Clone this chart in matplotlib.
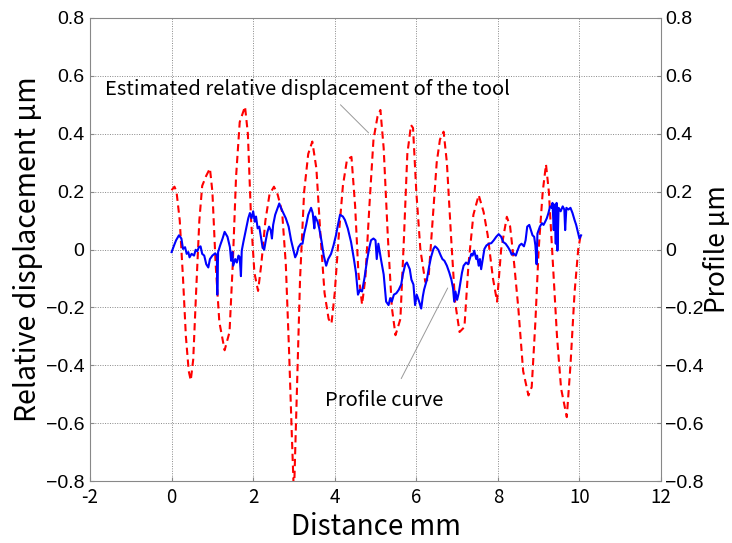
import matplotlib
matplotlib.use("Agg")
import matplotlib.pyplot as plt

# Estimated relative displacement of the tool (red dashed)
red_x = [0.00, 0.07, 0.12, 0.20, 0.28, 0.35, 0.42, 0.47, 0.53, 0.60, 0.68, 0.75, 0.85, 0.94,
         1.00, 1.08, 1.17, 1.30, 1.42, 1.50, 1.58, 1.67, 1.80, 1.87, 1.95, 2.03, 2.12, 2.20,
         2.30, 2.40, 2.51, 2.60, 2.71, 2.80, 2.88, 2.95, 3.00, 3.05, 3.15, 3.25, 3.35, 3.45,
         3.55, 3.65, 3.75, 3.85, 3.92, 4.00, 4.10, 4.20, 4.30, 4.41, 4.50, 4.58, 4.67, 4.75,
         4.85, 4.95, 5.05, 5.12, 5.20, 5.30, 5.40, 5.49, 5.61, 5.70, 5.78, 5.87, 5.92, 6.00,
         6.10, 6.22, 6.30, 6.40, 6.50, 6.58, 6.67, 6.75, 6.85, 6.95, 7.06, 7.18, 7.28, 7.40,
         7.53, 7.65, 7.75, 7.88, 7.98, 8.08, 8.22, 8.30, 8.40, 8.50, 8.62, 8.75, 8.83, 8.92,
         9.00, 9.10, 9.18, 9.25, 9.35, 9.45, 9.55, 9.69, 9.78, 9.88, 9.97, 10.03]
red_y = [0.205, 0.217, 0.20, 0.10, -0.10, -0.30, -0.42, -0.452, -0.38, -0.15, 0.10, 0.22, 0.255, 0.28,
         0.20, -0.05, -0.25, -0.348, -0.285, -0.05, 0.25, 0.44, 0.494, 0.40, 0.10, -0.08, -0.143, -0.05,
         0.10, 0.19, 0.217, 0.19, 0.13, -0.05, -0.35, -0.65, -0.85, -0.60, -0.10, 0.20, 0.33, 0.373,
         0.28, 0.05, -0.15, -0.24, -0.256, -0.15, 0.05, 0.22, 0.31, 0.32, 0.15, -0.08, -0.19, -0.10,
         0.15, 0.38, 0.46, 0.482, 0.35, 0.05, -0.20, -0.296, -0.24, 0.05, 0.33, 0.43, 0.42, 0.20,
         0.00, -0.112, -0.10, 0.10, 0.30, 0.38, 0.407, 0.30, 0.05, -0.18, -0.285, -0.268, -0.05, 0.12,
         0.188, 0.13, 0.05, -0.10, -0.18, 0.00, 0.113, 0.08, -0.05, -0.20, -0.42, -0.504, -0.475, -0.25,
         0.00, 0.20, 0.294, 0.20, -0.05, -0.30, -0.48, -0.579, -0.40, -0.15, 0.00, 0.05]

# Profile curve (blue solid)
blue_x = [0.00, 0.06, 0.11, 0.18, 0.24, 0.28, 0.33, 0.37, 0.41, 0.44, 0.49, 0.55, 0.59, 0.63, 0.67,
          0.71, 0.75, 0.80, 0.85, 0.90, 0.94, 1.00, 1.07, 1.11, 1.12, 1.14, 1.19, 1.25, 1.30, 1.37,
          1.43, 1.46, 1.49, 1.51, 1.56, 1.60, 1.64, 1.67, 1.70, 1.72, 1.76, 1.82, 1.88, 1.92, 1.96,
          2.00, 2.04, 2.07, 2.11, 2.15, 2.19, 2.23, 2.27, 2.31, 2.35, 2.39, 2.43, 2.46, 2.49, 2.54,
          2.60, 2.64, 2.68, 2.74, 2.80, 2.87, 2.93, 2.98, 3.03, 3.07, 3.11, 3.17, 3.21, 3.25, 3.30,
          3.35, 3.42, 3.46, 3.50, 3.52, 3.58, 3.62, 3.68, 3.73, 3.79, 3.84, 3.91, 3.97, 4.03, 4.07,
          4.13, 4.20, 4.25, 4.32, 4.40, 4.47, 4.52, 4.57, 4.62, 4.67, 4.73, 4.79, 4.85, 4.89, 4.95,
          5.00, 5.03, 5.07, 5.14, 5.20, 5.26, 5.32, 5.36, 5.40, 5.45, 5.51, 5.57, 5.63, 5.67, 5.73,
          5.77, 5.84, 5.88, 5.93, 5.97, 6.01, 6.07, 6.12, 6.16, 6.19, 6.26, 6.31, 6.36, 6.42, 6.46,
          6.50, 6.54, 6.60, 6.64, 6.69, 6.75, 6.81, 6.86, 6.90, 6.93, 6.96, 7.00, 7.04, 7.08, 7.12,
          7.16, 7.22, 7.27, 7.31, 7.35, 7.38, 7.42, 7.47, 7.49, 7.53, 7.56, 7.59, 7.63, 7.67, 7.72,
          7.78, 7.84, 7.90, 7.96, 8.02, 8.08, 8.13, 8.19, 8.25, 8.30, 8.34, 8.38, 8.44, 8.48, 8.53,
          8.58, 8.64, 8.68, 8.72, 8.77, 8.81, 8.85, 8.89, 8.92, 8.95, 8.97, 9.03, 9.08, 9.12, 9.16,
          9.20, 9.24, 9.28, 9.32, 9.34, 9.37, 9.39, 9.42, 9.44, 9.46, 9.49, 9.54, 9.59, 9.63, 9.65,
          9.68, 9.73, 9.78, 9.83, 9.88, 9.92, 9.96, 10.00, 10.04]
blue_y = [-0.009, 0.014, 0.032, 0.049, 0.038, 0.002, 0.008, -0.015, -0.009, -0.027, -0.015, -0.021, -0.001, -0.006, 0.008,
          0.011, -0.015, -0.021, -0.051, -0.062, -0.033, -0.021, -0.013, -0.021, -0.156, -0.009, 0.014, 0.038, 0.061, 0.044,
          0.008, -0.039, -0.009, -0.056, -0.033, -0.045, -0.021, -0.027, -0.092, -0.004, 0.026, 0.067, 0.108, 0.126, 0.108,
          0.132, 0.096, 0.114, 0.073, 0.079, 0.044, 0.008, -0.001, 0.032, 0.061, 0.079, 0.067, 0.038, 0.085, 0.120,
          0.144, 0.159, 0.144, 0.126, 0.108, 0.079, 0.032, 0.002, -0.027, -0.015, 0.008, 0.020, 0.020, 0.055, 0.085,
          0.120, 0.144, 0.126, 0.073, 0.114, 0.096, 0.073, 0.026, -0.021, -0.056, -0.033, -0.015, 0.014, 0.049, 0.079,
          0.120, 0.114, 0.102, 0.073, 0.026, -0.033, -0.080, -0.156, -0.139, -0.145, -0.098, -0.039, 0.008, 0.032, 0.038,
          0.032, -0.033, 0.020, -0.039, -0.086, -0.180, -0.192, -0.168, -0.180, -0.156, -0.151, -0.139, -0.121, -0.086, -0.051,
          -0.045, -0.068, -0.104, -0.121, -0.192, -0.156, -0.180, -0.204, -0.162, -0.139, -0.104, -0.062, -0.027, 0.002, 0.011,
          0.006, -0.001, -0.021, -0.033, -0.039, -0.056, -0.080, -0.104, -0.133, -0.180, -0.145, -0.174, -0.151, -0.115, -0.080,
          -0.056, -0.045, -0.051, -0.033, -0.015, -0.021, -0.004, -0.033, -0.021, -0.056, -0.033, -0.068, -0.033, 0.002, 0.014,
          0.020, 0.022, 0.032, 0.044, 0.053, 0.044, 0.026, 0.020, 0.008, -0.004, -0.018, -0.013, -0.021, -0.004, 0.014,
          0.020, 0.011, 0.032, 0.079, 0.085, 0.067, 0.049, 0.044, 0.014, -0.051, 0.055, 0.079, 0.091, 0.085, 0.096,
          0.108, 0.126, 0.149, 0.144, 0.161, 0.067, 0.155, 0.020, 0.161, -0.004, 0.144, 0.132, 0.149, 0.138, 0.067,
          0.144, 0.138, 0.144, 0.126, 0.102, 0.085, 0.061, 0.038, 0.049]

x_ticks = [-2, 0, 2, 4, 6, 8, 10, 12]
y_ticks = [-0.8, -0.6, -0.4, -0.2, 0, 0.2, 0.4, 0.6, 0.8]
y_tick_labels = ["\u22120.8", "\u22120.6", "\u22120.4", "\u22120.2", "0", "0.2", "0.4", "0.6", "0.8"]

jp = ["Noto Sans CJK JP", "DejaVu Sans"]
tickfont = ["Liberation Sans", "DejaVu Sans"]

fig = plt.figure(figsize=(7.32, 5.43), dpi=100)
ax = fig.add_axes([0.123, 0.114, 0.780, 0.853])

ax.plot(red_x, red_y, color="#ff0000", linestyle=(0, (3.5, 2.2)), linewidth=1.5, zorder=3)
ax.plot(blue_x, blue_y, color="#0000ff", linestyle="-", linewidth=1.5, zorder=4)

ax.set_xlim(-2, 12)
ax.set_ylim(-0.8, 0.8)
ax.set_xticks(x_ticks)
ax.set_xticklabels([str(v) for v in x_ticks], family=jp, fontsize=13.5)
ax.set_yticks(y_ticks)
ax.set_yticklabels(y_tick_labels, family=tickfont, fontsize=14)
ax.grid(True, color="#888888", linestyle=(0, (1, 1.5)), linewidth=0.7)
ax.tick_params(direction="in", length=3, color="#888888", pad=4)
for s in ax.spines.values():
    s.set_color("#888888")
    s.set_linewidth(0.8)

ax.set_xlabel("Distance mm", family=jp, fontsize=20, labelpad=3)
ax.set_ylabel("Relative displacement \u03bcm", family=jp, fontsize=20.5, labelpad=2)

ax2 = ax.twinx()
ax2.set_ylim(-0.8, 0.8)
ax2.set_yticks(y_ticks)
ax2.set_yticklabels(y_tick_labels, family=tickfont, fontsize=14)
ax2.tick_params(direction="in", length=3, color="#888888", pad=3)
for s in ax2.spines.values():
    s.set_visible(False)
ax2.set_ylabel("Profile \u03bcm", family=jp, fontsize=19, labelpad=0)

ax.text(-1.64, 0.552, "Estimated relative displacement of the tool", family=jp, fontsize=14.5,
        va="center", ha="left")
ax.annotate("", xy=(4.83, 0.403), xytext=(4.14, 0.50),
            arrowprops=dict(arrowstyle="-", color="#999999", linewidth=0.7, shrinkA=0, shrinkB=0))
ax.text(3.77, -0.52, "Profile curve", family=jp, fontsize=14.5, va="center", ha="left")
ax.annotate("", xy=(6.77, -0.133), xytext=(5.63, -0.446),
            arrowprops=dict(arrowstyle="-", color="#999999", linewidth=0.7, shrinkA=0, shrinkB=0))

fig.savefig("out.png", dpi=100)
